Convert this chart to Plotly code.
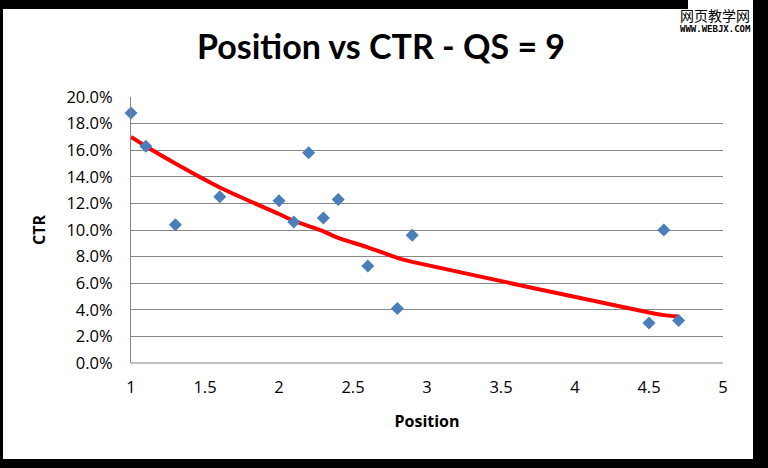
import plotly.graph_objects as go

# Data
position = [1.0, 1.1, 1.3, 1.6, 2.0, 2.1, 2.2, 2.3, 2.4, 2.6, 2.8, 2.9, 4.5, 4.6, 4.7]
ctr = [0.188, 0.163, 0.104, 0.125, 0.122, 0.106, 0.158, 0.109, 0.123, 0.073, 0.041, 0.096, 0.030, 0.100, 0.032]
trend = [0.170, 0.163, 0.150, 0.132, 0.112, 0.107, 0.103, 0.099, 0.094, 0.087, 0.079, 0.076, 0.038, 0.036, 0.035]

x_ticks = [1, 1.5, 2, 2.5, 3, 3.5, 4, 4.5, 5]
x_tick_text = ["1", "1.5", "2", "2.5", "3", "3.5", "4", "4.5", "5"]

W, H = 768, 468
ML, MR, MT, MB = 131, 45, 97, 105
PW, PH = W - ML - MR, H - MT - MB


def px(x):
    return (x - ML) / PW


def py(y):
    return (H - MB - y) / PH


fig = go.Figure()
fig.add_trace(go.Scatter(
    x=position, y=trend, mode="lines",
    line=dict(color="#FF0000", width=4, shape="spline", smoothing=0.6),
    showlegend=False, hoverinfo="skip",
))
fig.add_trace(go.Scatter(
    x=position, y=ctr, mode="markers", cliponaxis=False,
    marker=dict(symbol="diamond", size=10, color="#4A7EBB"),
    showlegend=False,
))

font_family = "Open Sans, Lato, sans-serif"

fig.update_layout(
    width=W, height=H,
    margin=dict(l=ML, r=MR, t=MT, b=MB),
    paper_bgcolor="black",
    plot_bgcolor="white",
    title=dict(
        text="<b>Position vs CTR - QS = 9</b>",
        x=381 / W, xanchor="center", y=1 - 47 / H, yanchor="middle",
        font=dict(family="Lato, Open Sans, sans-serif", size=34, color="black"),
    ),
    xaxis=dict(
        range=[1, 5], tickvals=x_ticks, ticktext=x_tick_text,
        showgrid=False, zeroline=False, showline=False,
        ticks="", ticklabelstandoff=12,
        tickfont=dict(family=font_family, size=16.5, color="black"),
        title=dict(text="<b>Position</b>", standoff=19,
                   font=dict(family=font_family, size=16, color="black")),
    ),
    yaxis=dict(
        range=[0, 0.2], dtick=0.02, tickformat=".1%",
        showgrid=True, gridcolor="#878787", gridwidth=1,
        zeroline=False, showline=True, linecolor="#878787", linewidth=1,
        ticks="", ticklabelstandoff=14,
        tickfont=dict(family=font_family, size=16.5, color="black"),
        title=dict(text="<b>CTR</b>", standoff=16,
                   font=dict(family=font_family, size=16, color="black")),
    ),
    shapes=[
        dict(type="rect", xref="paper", yref="paper", layer="below",
             x0=px(3), x1=px(753), y0=py(459), y1=py(9),
             fillcolor="white", line=dict(width=0)),
        dict(type="rect", xref="paper", yref="paper", layer="below",
             x0=px(688), x1=px(753), y0=py(36), y1=py(0),
             fillcolor="white", line=dict(width=0)),
        dict(type="line", xref="paper", yref="paper", layer="below",
             x0=0, x1=1, y0=0, y1=0, line=dict(color="#878787", width=1)),
    ],
    annotations=[
        dict(text="网页教学网", xref="paper", yref="paper",
             x=px(752), y=py(15), xanchor="right", yanchor="middle",
             showarrow=False,
             font=dict(family="Noto Sans CJK SC", size=14, color="black")),
        dict(text="<b>WWW.WEBJX.COM</b>", xref="paper", yref="paper",
             x=px(753), y=py(29), xanchor="right", yanchor="middle",
             showarrow=False,
             font=dict(family="DejaVu Sans Mono", size=9, color="black")),
    ],
)

fig.write_html(
    "out.html",
    config={"displayModeBar": False},
    post_script="document.body.style.margin='0';document.body.style.background='black';",
)
